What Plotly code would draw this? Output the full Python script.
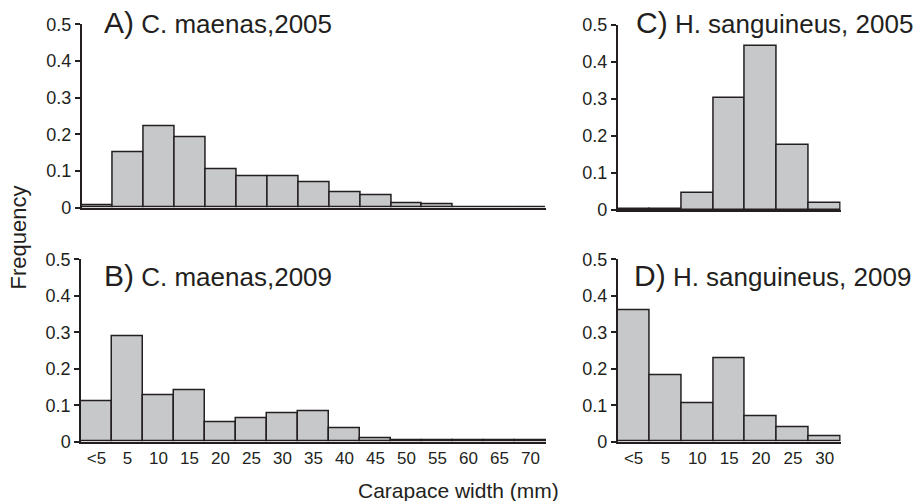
import plotly.graph_objects as go

# ---- data ----
cm_bins = ["<5", "5", "10", "15", "20", "25", "30", "35", "40", "45", "50", "55", "60", "65", "70"]
cm_2005 = [0.007, 0.151, 0.222, 0.193, 0.104, 0.085, 0.085, 0.068, 0.043, 0.034, 0.013, 0.008, 0.0, 0.0, 0.0]
cm_2009 = [0.112, 0.290, 0.128, 0.141, 0.053, 0.064, 0.079, 0.082, 0.037, 0.008, 0.003, 0.003, 0.003, 0.003, 0.003]
hs_bins = ["<5", "5", "10", "15", "20", "25", "30"]
hs_2005 = [0.003, 0.003, 0.047, 0.302, 0.444, 0.175, 0.019]
hs_2009 = [0.360, 0.181, 0.106, 0.229, 0.069, 0.040, 0.015]
y_ticks = [0, 0.1, 0.2, 0.3, 0.4, 0.5]
y_ticktext = ["0", "0.1", "0.2", "0.3", "0.4", "0.5"]

panels = [
    ("A)", "C. maenas,2005", cm_bins, cm_2005, False),
    ("B)", "C. maenas,2009", cm_bins, cm_2009, True),
    ("C)", "H. sanguineus, 2005", hs_bins, hs_2005, False),
    ("D)", "H. sanguineus, 2009", hs_bins, hs_2009, True),
]

W, H = 921, 501
FONT = "Liberation Sans, Arial, sans-serif"
INK = "#231f20"
FILL = "#c7c8ca"

# pixel boxes (left, right, top, bottom)
boxes = [
    (81.7, 546, 24.3, 207.7),
    (81, 546, 259.3, 441.7),
    (617.7, 840.7, 25, 210),
    (617.7, 840.7, 259.3, 441.7),
]
title_pos = [(102, 22), (102, 275), (634, 22), (632, 275)]

fig = go.Figure()
for i, ((lab, name, bins, vals, showx), (l, r, t, b), (tx, ty)) in enumerate(zip(panels, boxes, title_pos)):
    n = i + 1
    xa = "x" if n == 1 else f"x{n}"
    ya = "y" if n == 1 else f"y{n}"
    fig.add_trace(go.Bar(
        x=bins, y=vals, xaxis=xa, yaxis=ya,
        marker=dict(color=FILL, line=dict(color=INK, width=1.5)),
        width=1.0, showlegend=False, hoverinfo="x+y",
    ))
    xkey = "xaxis" if n == 1 else f"xaxis{n}"
    ykey = "yaxis" if n == 1 else f"yaxis{n}"
    fig.layout[xkey] = dict(
        domain=[l / W, r / W], anchor=ya, type="category",
        range=[-0.5, len(bins) - 0.5], showgrid=False, zeroline=False,
        showline=True, linecolor=INK, linewidth=2, ticks="",
        showticklabels=showx, tickfont=dict(family=FONT, size=17, color=INK),
        fixedrange=True, automargin=False,
    )
    fig.layout[ykey] = dict(
        domain=[1 - b / H, 1 - t / H], anchor=xa, range=[0, 0.5],
        tickvals=y_ticks, ticktext=y_ticktext, ticks="outside", ticklen=5,
        tickwidth=1.5, tickcolor=INK, showgrid=False, zeroline=False,
        showline=True, linecolor=INK, linewidth=1.5,
        tickfont=dict(family=FONT, size=18, color=INK), fixedrange=True,
        automargin=False,
    )
    fig.add_annotation(
        x=tx / W, y=1 - ty / H, xref="paper", yref="paper",
        xanchor="left", yanchor="middle", showarrow=False,
        text=f"<span style='font-size:30px'>{lab}</span> {name}",
        font=dict(family=FONT, size=26, color=INK),
    )

fig.add_annotation(
    x=458 / W, y=1 - 490 / H, xref="paper", yref="paper",
    xanchor="center", yanchor="middle", showarrow=False,
    text="Carapace width (mm)", font=dict(family=FONT, size=21, color=INK),
)
fig.add_annotation(
    x=17.5 / W, y=1 - 238 / H, xref="paper", yref="paper",
    xanchor="center", yanchor="middle", showarrow=False, textangle=-90,
    text="Frequency", font=dict(family=FONT, size=22, color=INK),
)

fig.update_layout(
    width=W, height=H, autosize=False,
    margin=dict(l=0, r=0, t=0, b=0, pad=0),
    paper_bgcolor="white", plot_bgcolor="white",
    bargap=0,
)
fig.write_html(
    "out.html",
    config={"displayModeBar": False},
    post_script="document.body.style.margin='0';document.body.style.overflow='hidden';",
)
